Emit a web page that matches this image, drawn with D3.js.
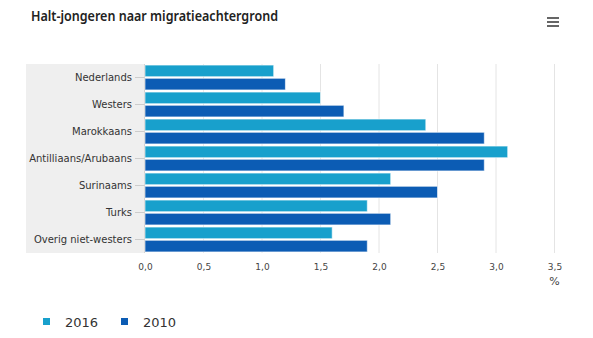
<!DOCTYPE html>
<html>
<head>
<meta charset="utf-8">
<script src="https://cdn.jsdelivr.net/npm/d3@7"></script>
<style>
  body { margin: 0; background: #fff; }
  svg { display: block; }
</style>
</head>
<body>
<div id="chart"></div>
<script>
// data
const categories = ['Nederlands', 'Westers', 'Marokkaans', 'Antilliaans/Arubaans', 'Surinaams', 'Turks', 'Overig niet-westers'];
const seriesNames = ['2016', '2010'];
const values2016 = [1.1, 1.5, 2.4, 3.1, 2.1, 1.9, 1.6];
const values2010 = [1.2, 1.7, 2.9, 2.9, 2.5, 2.1, 1.9];
const xTicks = [0, 0.5, 1, 1.5, 2, 2.5, 3, 3.5];
const colors = ['#18a0cc', '#0c5cb4'];

const width = 593, height = 338;
const margin = { left: 145, right: 38.5, top: 64, bottom: 85 };

const svg = d3.select('#chart').append('svg')
  .attr('width', width)
  .attr('height', height)
  .style('font-family', '"DejaVu Sans", Verdana, sans-serif');

// title
svg.append('text')
  .attr('x', 31).attr('y', 21)
  .style('font-family', '"Noto Sans", sans-serif')
  .style('font-size', '15px')
  .style('font-weight', '600')
  .attr('fill', '#222')
  .attr('textLength', 247)
  .attr('lengthAdjust', 'spacingAndGlyphs')
  .text('Halt-jongeren naar migratieachtergrond');

// menu icon
const menu = svg.append('g').attr('transform', 'translate(547,17)');
[0, 4, 8].forEach(dy => {
  menu.append('rect').attr('x', 0).attr('y', dy).attr('width', 12).attr('height', 2).attr('fill', '#666');
});

const x = d3.scaleLinear().domain([0, 3.5]).range([margin.left, width - margin.right]);
const y = d3.scaleBand().domain(categories).range([margin.top, height - margin.bottom]);
const inner = d3.scaleBand().domain(seriesNames).range([0, y.bandwidth()]).paddingInner(0.12).paddingOuter(0.08);

// grey band behind category labels
svg.append('rect')
  .attr('x', 26).attr('y', margin.top)
  .attr('width', margin.left - 26).attr('height', height - margin.bottom - margin.top)
  .attr('fill', '#efefef');

// gridlines
svg.append('g').selectAll('line').data(xTicks.slice(1)).join('line')
  .attr('x1', d => x(d)).attr('x2', d => x(d))
  .attr('y1', margin.top).attr('y2', height - margin.bottom)
  .attr('stroke', '#e4e4e4').attr('stroke-width', 1);

// y axis line + ticks
svg.append('line')
  .attr('x1', margin.left - 0.5).attr('x2', margin.left - 0.5)
  .attr('y1', margin.top).attr('y2', height - margin.bottom)
  .attr('stroke', '#ccc');

const yAxis = svg.append('g')
  .attr('transform', `translate(${margin.left},0)`)
  .call(d3.axisLeft(y).tickSize(10).tickPadding(3));
yAxis.select('.domain').remove();
yAxis.selectAll('line').attr('stroke', '#ccc');
yAxis.selectAll('text').attr('fill', '#333').style('font-family', '"DejaVu Sans", sans-serif').style('font-size', '10px');

// bars
const series = seriesNames.map((name, i) => ({ name, values: i === 0 ? values2016 : values2010, color: colors[i] }));
svg.append('g').selectAll('g').data(series).join('g')
  .attr('fill', d => d.color)
  .selectAll('rect')
  .data(d => d.values.map((v, j) => ({ v, cat: categories[j], name: d.name })))
  .join('rect')
  .attr('x', x(0))
  .attr('y', d => y(d.cat) + inner(d.name))
  .attr('width', d => x(d.v) - x(0))
  .attr('height', inner.bandwidth())
  .attr('stroke', 'rgba(255,255,255,0.6)')
  .attr('stroke-width', 1);

// x axis labels
const fmt = d => d3.format('.1f')(d).replace('.', ',');
const xAxis = svg.append('g')
  .attr('transform', `translate(0,${height - margin.bottom})`)
  .call(d3.axisBottom(x).tickValues(xTicks).tickFormat(fmt).tickSize(0).tickPadding(11));
xAxis.select('.domain').remove();
xAxis.selectAll('text').attr('fill', '#444').style('font-family', '"DejaVu Sans", sans-serif').style('font-size', '9px');

svg.append('text')
  .attr('x', x(3.5)).attr('y', 285)
  .attr('text-anchor', 'middle')
  .attr('fill', '#444')
  .style('font-size', '11px')
  .text('%');

// legend
const legend = svg.append('g').selectAll('g').data(series).join('g')
  .attr('transform', (d, i) => `translate(${43 + i * 78},318)`);
legend.append('rect')
  .attr('width', 7).attr('height', 7)
  .attr('fill', d => d.color);
legend.append('text')
  .attr('x', 22).attr('y', 9)
  .attr('fill', '#333')
  .style('font-size', '13px')
  .text(d => d.name);
</script>
</body>
</html>
